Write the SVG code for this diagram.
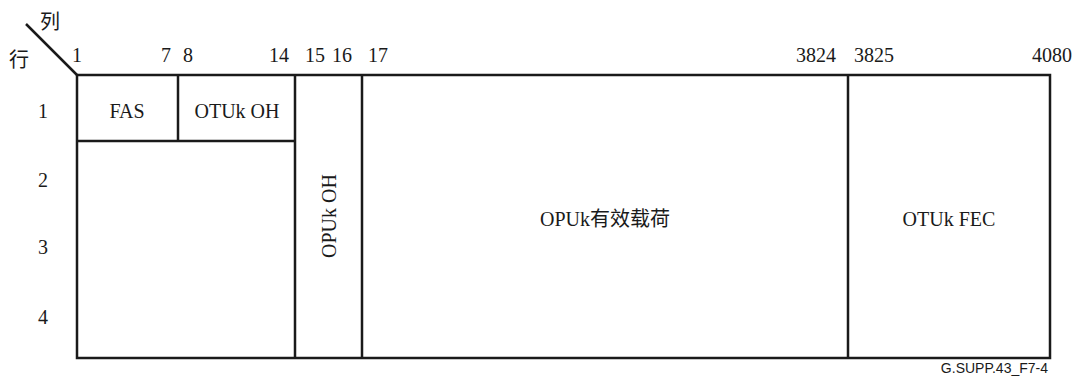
<svg xmlns="http://www.w3.org/2000/svg" width="1079" height="378" viewBox="0 0 1079 378">
<style>
.ln{stroke:#1a1a1a;stroke-width:2.5;fill:none}
.c{text-anchor:middle}
</style>
<rect width="1079" height="378" fill="#fff"/>
<g id="frame">
<rect class="ln" x="77" y="75" width="973" height="283"/>
<line class="ln" x1="26" y1="24" x2="77" y2="75"/>
</g>
<g font-family="Liberation Serif, Tinos, Times New Roman, Noto Sans CJK SC, serif" font-size="20" fill="#1a1a1a">
<g id="fas"><line class="ln" x1="77" y1="141" x2="295" y2="141"/><text class="c" x="127" y="118">FAS</text></g>
<g id="otuk-oh"><line class="ln" x1="178" y1="75" x2="178" y2="141"/><text class="c" x="237" y="118">OTUk OH</text></g>
<g id="opuk-oh"><line class="ln" x1="295" y1="75" x2="295" y2="358"/><text class="c" transform="translate(336,216) rotate(-90)">OPUk OH</text></g>
<g id="payload"><line class="ln" x1="362" y1="75" x2="362" y2="358"/><text class="c" x="605" y="226">OPUk有效载荷</text></g>
<g id="fec"><line class="ln" x1="848" y1="75" x2="848" y2="358"/><text class="c" x="949" y="226">OTUk FEC</text></g>
<g id="labels">
<text x="40" y="29">列</text>
<text x="9" y="67">行</text>
<text x="72" y="62">1</text>
<text x="161" y="62">7</text>
<text x="183" y="62">8</text>
<text x="269" y="62">14</text>
<text x="305" y="62">15</text>
<text x="332" y="62">16</text>
<text x="368" y="62">17</text>
<text x="796" y="62">3824</text>
<text x="854" y="62">3825</text>
<text x="1032" y="62">4080</text>
<text class="c" x="43" y="118">1</text>
<text class="c" x="43" y="187">2</text>
<text class="c" x="43" y="254">3</text>
<text class="c" x="43" y="324">4</text>
</g>
</g>
<text font-family="Liberation Sans, Arial, sans-serif" font-size="14" fill="#1a1a1a" text-anchor="end" x="1048" y="373">G.SUPP.43_F7-4</text>
</svg>
